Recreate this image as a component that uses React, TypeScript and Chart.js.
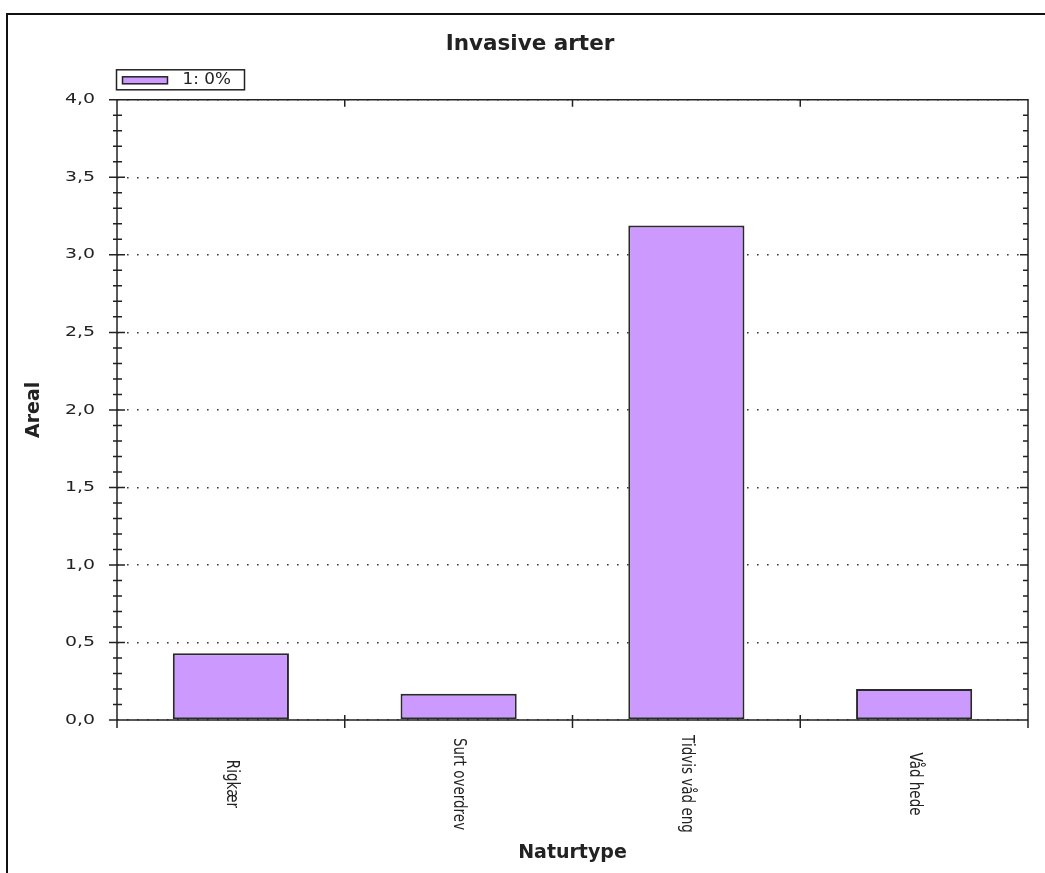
import { useEffect, useRef } from 'react';
import { Chart, registerables } from 'chart.js';

Chart.register(...registerables);

// chart data
const chartTitle = 'Invasive arter';
const categories = ['Rigkær', 'Surt overdrev', 'Tidvis våd eng', 'Våd hede'];
const areal = [0.43, 0.17, 3.19, 0.2];
const seriesLabel = '1: 0%';
const yTickLabels = ['0,0', '0,5', '1,0', '1,5', '2,0', '2,5', '3,0', '3,5', '4,0'];
const yMax = 4;
const yStep = 0.5;
const yMinorStep = 0.1;
const xTitle = 'Naturtype';
const yTitle = 'Areal';

const ink = '#222';
const barFill = '#CC99FF';
const font = '"DejaVu Sans", Verdana, sans-serif';

const framePlugin = {
    id: 'frame',
    beforeDraw(chart: Chart) {
        const { ctx, width, height } = chart;
        ctx.save();
        ctx.fillStyle = '#fff';
        ctx.fillRect(0, 0, width, height);
        ctx.strokeStyle = '#111';
        ctx.lineWidth = 2;
        ctx.beginPath();
        ctx.moveTo(7, height);
        ctx.lineTo(7, 14);
        ctx.lineTo(width, 14);
        ctx.stroke();
        ctx.restore();
    },
    afterDraw(chart: Chart) {
        const { ctx, chartArea: a } = chart;
        const x = chart.scales.x;
        const y = chart.scales.y;
        ctx.save();
        ctx.strokeStyle = ink;
        ctx.lineWidth = 1.5;
        ctx.beginPath();
        // plot frame
        ctx.moveTo(a.left, a.bottom + 8);
        ctx.lineTo(a.left, a.top);
        ctx.lineTo(a.right, a.top);
        ctx.lineTo(a.right, a.bottom + 8);
        ctx.moveTo(a.left - 8, a.bottom);
        ctx.lineTo(a.right, a.bottom);

        // major and minor y ticks
        const n = Math.round(yMax / yMinorStep);
        const every = Math.round(yStep / yMinorStep);
        for (let i = 0; i <= n; i++) {
            const py = y.getPixelForValue(i * yMinorStep);
            const major = i % every === 0;
            ctx.moveTo(a.left - (major ? 8 : 4), py);
            ctx.lineTo(a.left + (major ? 8 : 5), py);
            ctx.moveTo(a.right - (major ? 8 : 5), py);
            ctx.lineTo(a.right, py);
        }

        // ticks between categories
        for (let i = 1; i < categories.length; i++) {
            const px = (x.getPixelForTick(i - 1) + x.getPixelForTick(i)) / 2;
            ctx.moveTo(px, a.bottom - 5);
            ctx.lineTo(px, a.bottom + 8);
            ctx.moveTo(px, a.top);
            ctx.lineTo(px, a.top + 7);
        }
        ctx.stroke();

        // y tick labels, a little stretched sideways like the original
        ctx.fillStyle = ink;
        ctx.font = `14px ${font}`;
        ctx.textAlign = 'right';
        ctx.textBaseline = 'middle';
        y.ticks.forEach((t, i) => {
            ctx.save();
            ctx.translate(a.left - 22, y.getPixelForValue(t.value));
            ctx.scale(1.35, 1);
            ctx.fillText(yTickLabels[i], 0, 0);
            ctx.restore();
        });

        // category labels, turned clockwise
        ctx.font = `13.5px ${font}`;
        ctx.textAlign = 'center';
        categories.forEach((c, i) => {
            ctx.save();
            ctx.translate(x.getPixelForTick(i), a.bottom + 64);
            ctx.rotate(Math.PI / 2);
            ctx.scale(1, 1.25);
            ctx.fillText(c, 0, 0);
            ctx.restore();
        });

        // boxed legend
        const ds = chart.data.datasets[0];
        const lx = a.left - 0.5;
        const ly = a.top - 30;
        ctx.lineWidth = 1.5;
        ctx.strokeRect(lx, ly, 128, 20);
        ctx.fillStyle = ds.backgroundColor as string;
        ctx.fillRect(lx + 6, ly + 7, 45, 7);
        ctx.strokeRect(lx + 6, ly + 7, 45, 7);
        ctx.fillStyle = ink;
        ctx.font = `15px ${font}`;
        ctx.textAlign = 'left';
        ctx.save();
        ctx.translate(lx + 66, ly + 10.5);
        ctx.scale(1.12, 1);
        ctx.fillText(ds.label as string, 0, 0);
        ctx.restore();
        ctx.restore();
    },
};

const App = () => {
    const chartRef = useRef<HTMLCanvasElement | null>(null);
    const chartInstance = useRef<Chart | null>(null);

    useEffect(() => {
        if (!chartRef.current) return;
        const ctx = chartRef.current.getContext('2d');
        if (!ctx) return;

        chartInstance.current = new Chart(ctx, {
            type: 'bar',
            data: {
                labels: categories,
                datasets: [
                    {
                        label: seriesLabel,
                        data: areal,
                        backgroundColor: barFill,
                        borderColor: '#2a2a2a',
                        borderWidth: 2,
                        borderSkipped: false,
                        barPercentage: 0.51,
                        categoryPercentage: 1,
                    },
                ],
            },
            options: {
                animation: false,
                responsive: true,
                maintainAspectRatio: false,
                layout: { padding: { left: 32, right: 17, top: 14, bottom: 0 } },
                plugins: {
                    legend: { display: false },
                    tooltip: { enabled: false },
                    title: {
                        display: true,
                        text: chartTitle,
                        color: ink,
                        font: { family: font, size: 21.5, weight: 'bold' },
                        padding: { top: 18, bottom: 42 },
                    },
                },
                scales: {
                    x: {
                        grid: { display: false },
                        border: { display: false },
                        ticks: { display: false },
                        title: {
                            display: true,
                            text: xTitle,
                            color: ink,
                            font: { family: font, size: 19, weight: 'bold' },
                            padding: { top: 0, bottom: 8.6 },
                        },
                        afterFit: (scale: any) => {
                            scale.height = 153;
                        },
                    },
                    y: {
                        min: 0,
                        max: yMax,
                        grid: { color: '#3a3a3a', lineWidth: 1.6, drawTicks: false },
                        border: { display: false, dash: [1.6, 8.4] },
                        ticks: { stepSize: yStep, display: false },
                        title: {
                            display: true,
                            text: yTitle,
                            color: ink,
                            font: { family: font, size: 19, weight: 'bold' },
                            padding: { top: -9.4, bottom: 0 },
                        },
                        afterFit: (scale: any) => {
                            scale.width = 85;
                        },
                    },
                },
            },
            plugins: [framePlugin],
        });

        return () => {
            if (chartInstance.current) {
                chartInstance.current.destroy();
                chartInstance.current = null;
            }
        };
    }, []);

    return (
        <div style={{ position: 'fixed', left: 0, top: 0, width: 1045, height: 873, background: '#fff' }}>
            <canvas ref={chartRef} />
        </div>
    );
};

export default App;
